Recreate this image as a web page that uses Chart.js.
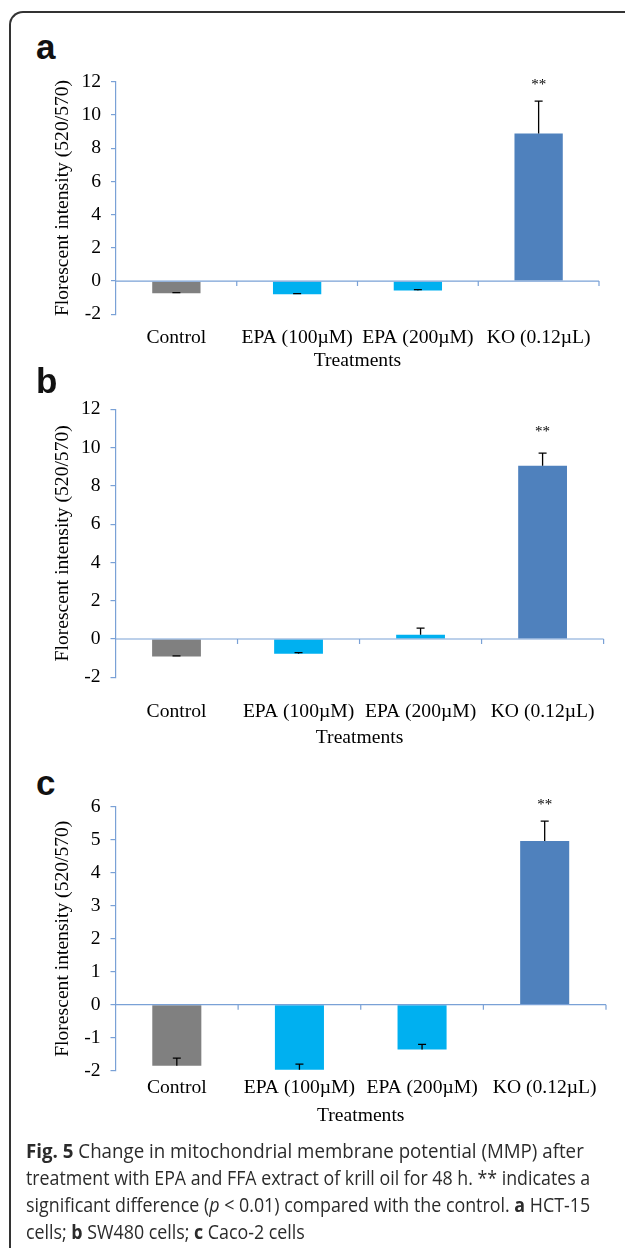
<!DOCTYPE html>
<html>
<head>
<meta charset="utf-8">
<script src="https://cdn.jsdelivr.net/npm/chart.js@4.4.0/dist/chart.umd.min.js"></script>
<style>
  body { margin: 0; width: 625px; height: 1248px; background: #fff; position: relative; overflow: hidden; }
  .frame { position: absolute; left: 9px; top: 11px; width: 720px; height: 1300px;
    border-left: 2px solid #333; border-top: 2px solid #333; border-top-left-radius: 14px; }
  canvas { position: absolute; left: 0; }
  .letter { position: absolute; left: 36px; font: bold 35px "Liberation Sans", Arial, sans-serif;
    line-height: 35px; color: #111; }
  .caption { position: absolute; left: 26px; top: 1137px; font-family: "Open Sans", sans-serif;
    font-size: 19.5px; line-height: 27px; color: #2b2b2b; white-space: nowrap; }
  .caption span { display: block; transform-origin: left center; }
</style>
</head>
<body>
<div class="frame"></div>

<div class="letter" style="top:29px">a</div>
<canvas id="chartA" width="625" height="315" style="top:60px"></canvas>

<div class="letter" style="top:363px">b</div>
<canvas id="chartB" width="625" height="385" style="top:375px"></canvas>

<div class="letter" style="top:765px">c</div>
<canvas id="chartC" width="625" height="380" style="top:760px"></canvas>

<div class="caption">
  <span data-w="558"><b>Fig. 5</b> Change in mitochondrial membrane potential (MMP) after</span>
  <span data-w="564">treatment with EPA and FFA extract of krill oil for 48 h. ** indicates a</span>
  <span data-w="564">significant difference (<i>p</i> &lt; 0.01) compared with the control. <b>a</b> HCT-15</span>
  <span data-w="279">cells; <b>b</b> SW480 cells; <b>c</b> Caco-2 cells</span>
</div>

<script>
// Categories (same on all three panels)
const treatments = ["Control", "EPA (100µM)", "EPA (200µM)", "KO (0.12µL)"];
const barColors = ["#808080", "#00B0F0", "#00B0F0", "#4F81BD"];
const stars = ["", "", "", "**"];

// Panel a - HCT-15
const valuesA = [-0.74, -0.8, -0.56, 8.88];
const errorsA = [0.05, 0.04, 0.04, 1.96];
// Panel b - SW480
const valuesB = [-0.91, -0.77, 0.22, 9.05];
const errorsB = [0.03, 0.06, 0.35, 0.66];
// Panel c - Caco-2
const valuesC = [-1.85, -1.97, -1.36, 4.96];
const errorsC = [0.23, 0.17, 0.16, 0.6];

const AXIS_COLOR = "#7aa1d6";
const SERIF = "'Liberation Serif', 'Times New Roman', serif";
const TEXT_SIZE = 19.6;

// Error bars, "**" marks and the category axis crossing at zero
const errorBarPlugin = {
  id: "errorBars",
  afterDatasetsDraw(chart, args, opts) {
    const ctx = chart.ctx;
    const x = chart.scales.x;
    const y = chart.scales.y;
    const y0 = y.getPixelForValue(0);
    const values = chart.data.datasets[0].data;

    ctx.save();
    // category axis at y = 0 with small tick marks between categories
    ctx.strokeStyle = AXIS_COLOR;
    ctx.lineWidth = 1.2;
    ctx.beginPath();
    ctx.moveTo(x.left, y0);
    ctx.lineTo(x.right, y0);
    const step = (x.right - x.left) / values.length;
    for (let i = 1; i <= values.length; i++) {
      ctx.moveTo(x.left + step * i, y0);
      ctx.lineTo(x.left + step * i, y0 + 5);
    }
    ctx.stroke();

    // error bars (plus direction, like Excel)
    const meta = chart.getDatasetMeta(0);
    ctx.strokeStyle = "#000";
    ctx.lineWidth = 1.3;
    ctx.fillStyle = "#000";
    ctx.font = "15px " + SERIF;
    ctx.textAlign = "center";
    ctx.textBaseline = "middle";
    meta.data.forEach((bar, i) => {
      const yStart = y.getPixelForValue(values[i]);
      const yEnd = y.getPixelForValue(values[i] + opts.errors[i]);
      ctx.beginPath();
      ctx.moveTo(bar.x, yStart);
      ctx.lineTo(bar.x, yEnd);
      ctx.moveTo(bar.x - 4, yEnd);
      ctx.lineTo(bar.x + 4, yEnd);
      ctx.stroke();
      if (opts.stars[i]) {
        ctx.fillText(opts.stars[i], bar.x, yEnd - opts.starGap);
      }
    });
    ctx.restore();
  },
};

function drawPanel(id, values, errors, yMin, yMax, yStep, lay) {
  const ctx = document.getElementById(id).getContext("2d");
  return new Chart(ctx, {
    type: "bar",
    data: {
      labels: treatments,
      datasets: [
        {
          data: values,
          backgroundColor: barColors,
          borderWidth: 0,
          barPercentage: 0.4,
          categoryPercentage: 1,
        },
      ],
    },
    options: {
      responsive: false,
      animation: false,
      devicePixelRatio: 1,
      layout: { padding: lay.padding },
      plugins: {
        legend: { display: false },
        tooltip: { enabled: false },
        errorBars: { errors: errors, stars: stars, starGap: lay.starGap },
      },
      scales: {
        x: {
          grid: { display: false, drawTicks: false },
          border: { display: false },
          ticks: {
            color: "#000",
            font: { family: SERIF, size: TEXT_SIZE },
            padding: lay.labelPad,
            maxRotation: 0,
            autoSkip: false,
          },
          title: {
            display: true,
            text: "Treatments",
            color: "#000",
            font: { family: SERIF, size: TEXT_SIZE },
            padding: { top: 0, bottom: lay.titlePad },
          },
          afterFit: (s) => {
            s.height = lay.xHeight;
          },
        },
        y: {
          min: yMin,
          max: yMax,
          ticks: {
            stepSize: yStep,
            color: "#000",
            font: { family: SERIF, size: TEXT_SIZE },
            padding: 10,
          },
          grid: {
            color: "rgba(0,0,0,0)",
            tickColor: AXIS_COLOR,
            tickLength: 5,
            lineWidth: 1.2,
          },
          border: { color: AXIS_COLOR, width: 1.2 },
          title: {
            display: true,
            text: "Florescent intensity (520/570)",
            color: "#000",
            font: { family: SERIF, size: TEXT_SIZE },
            padding: { top: 51, bottom: 0 },
          },
          afterFit: (s) => {
            s.width = lay.yWidth;
          },
        },
      },
    },
    plugins: [errorBarPlugin],
  });
}

drawPanel("chartA", valuesA, errorsA, -2, 12, 2, {
  padding: { top: 21, right: 26, bottom: 0, left: 0 },
  yWidth: 116, xHeight: 60.7, labelPad: 12, titlePad: 2.3, starGap: 16,
});
drawPanel("chartB", valuesB, errorsB, -2, 12, 2, {
  padding: { top: 34.3, right: 21.4, bottom: 0, left: 0 },
  yWidth: 115.5, xHeight: 82.7, labelPad: 22.7, titlePad: 10.3, starGap: 21,
});
drawPanel("chartC", valuesC, errorsC, -2, 6, 1, {
  padding: { top: 46.7, right: 19, bottom: 0, left: 0 },
  yWidth: 115.5, xHeight: 69.3, labelPad: 5.6, titlePad: 12.3, starGap: 16,
});

// fit each caption line to the width it has in the figure
document.querySelectorAll(".caption span").forEach((el) => {
  const range = document.createRange();
  range.selectNodeContents(el);
  const textW = range.getBoundingClientRect().width;
  el.style.transform = "scaleX(" + (Number(el.dataset.w) / textW).toFixed(3) + ")";
});
</script>
</body>
</html>
